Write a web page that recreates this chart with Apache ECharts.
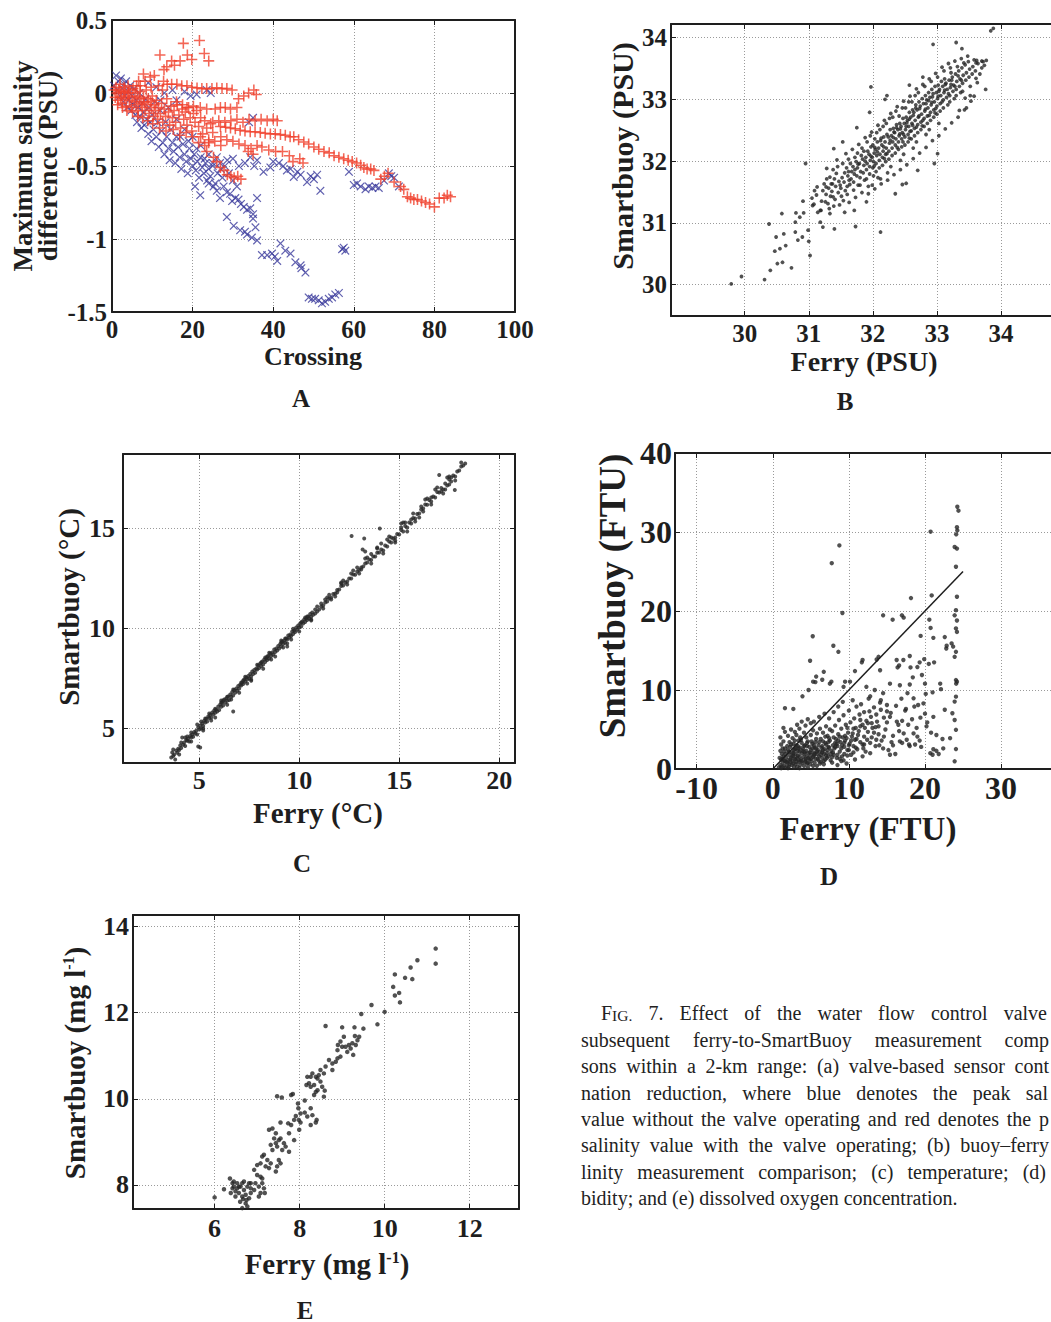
<!DOCTYPE html>
<html><head><meta charset="utf-8">
<script src="https://cdn.jsdelivr.net/npm/echarts@6/dist/echarts.min.js"></script>
<style>html,body{margin:0;padding:0;background:#fff}#c{width:1051px;height:1322px}</style>
</head><body><div id="c"></div>
<script>
// ---------------- DATA ----------------
// Panel A: maximum salinity difference vs crossing
const valveOperating = [ // red +
[0.5,0.02],[0.8,-0.03],[1,0.04],[1.2,0],[1.5,-0.05],[1.7,0.02],[2,0.06],[2.1,-0.03],[2.3,0.01],[2.5,-0.07],[2.8,0],[3,0.04],[3.1,-0.04],[3.3,0.01],[3.5,-0.09],[3.8,-0.02],[4,0.05],[4.1,0],[4.3,-0.05],[4.5,0.02],[4.8,-0.1],[5,-0.03],[5.2,0.03],[5.5,-0.06],[5.7,0],[6,-0.08],[6.1,0.05],[6.3,-0.02],[6.5,-0.12],[6.8,-0.04],[7,0.01],[7.2,-0.07],[7.5,-0.1],[7.8,-0.03],[8,-0.06],[8.2,-0.12],[8.5,0.02],[8.7,-0.08],[9,-0.04],[9.2,-0.14],[9.5,-0.06],[9.8,-0.1],[10,-0.02],[10.3,-0.16],[10.5,-0.08],[10.8,-0.12],[11,-0.05],[11.3,-0.18],[11.5,-0.1],[12,-0.14],[12.3,-0.07],[12.6,-0.2],[13,-0.11],[13.3,-0.16],[13.6,-0.04],[14,-0.13],[14.3,-0.22],[14.6,-0.09],[15,-0.17],[15.4,-0.12],[15.8,-0.2],[16.2,-0.08],[16.6,-0.15],[17,-0.24],[17.4,-0.11],[17.8,-0.18],[18.2,-0.13],[18.6,-0.22],[19,-0.1],[19.4,-0.17],[19.8,-0.26],[20.2,-0.14],[20.6,-0.2],[21,-0.12],[21.5,-0.23],[22,-0.17],[22.5,-0.28],[23,-0.19],[23.5,-0.24],[24,-0.32],[24.5,-0.21],[25,-0.27],[23,-0.36],[24,-0.34],[22,-0.3],
[7,0.05],[7.8,0.13],[8.2,0.08],[9.5,0.11],[10.5,0.12],[11.9,0.26],[12.9,0.16],[13.6,0.18],[14.8,0.22],[15.5,0.19],[16.9,0.22],[17.7,0.34],[18.7,0.26],[19.8,0.23],[21.7,0.36],[22.9,0.27],[24,0.22],
[11.5,0.05],[12.8,0.08],[13.7,0.06],[14.8,0.06],[16.1,0.06],[17.3,0.05],[18.6,0.05],[19.8,0.04],[21.1,0.035],[22.3,0.03],[23.5,0.03],[24.8,0.03],[26,0.035],[27.3,0.03],[28.5,0.03],[29.8,0.02],[31.4,-0.04],[32.7,-0.02],[33.9,0],[35.2,0.02],[35.8,-0.01],
[16,-0.06],[17.5,-0.08],[18.6,-0.1],[20.2,-0.09],[21.9,-0.1],[23.5,-0.11],[25.6,-0.11],[26.9,-0.1],[28.1,-0.1],[29.4,-0.11],[31,-0.1],
[25,-0.2],[26.5,-0.19],[28,-0.2],[29.5,-0.19],[31,-0.18],[32.5,-0.2],[34,-0.18],[35.5,-0.19],[37,-0.18],[38.5,-0.19],[40,-0.18],[41,-0.19],
[26.9,-0.23],[28.2,-0.235],[29.4,-0.24],[30.6,-0.245],[31.8,-0.255],[33,-0.26],[34.3,-0.265],[35.5,-0.265],[36.8,-0.27],[38,-0.275],[39.3,-0.28],[40.5,-0.28],[41.8,-0.285],[43,-0.29],[44.2,-0.3],[45.1,-0.3],[46.3,-0.32],[47.6,-0.335],[48.8,-0.35],[50.1,-0.37],[51.3,-0.385],[52.6,-0.4],[53.9,-0.41],[55.1,-0.43],[56.3,-0.44],[57.5,-0.45],[58.6,-0.46],[59.6,-0.47],[60.7,-0.48],[61.7,-0.495],[62.5,-0.51],[63.3,-0.52],[64.2,-0.52],[65,-0.53],[66.7,-0.59],[67.6,-0.57],[68.5,-0.55],[70,-0.61],[71.6,-0.64],[72.4,-0.66],[73.3,-0.71],[74.1,-0.72],[74.9,-0.73],[75.8,-0.73],[76.8,-0.74],[77.8,-0.75],[78.8,-0.76],[80,-0.78],[81.2,-0.72],[82.4,-0.72],[83.2,-0.7],[84,-0.71],
[30,-0.33],[31.5,-0.35],[33,-0.36],[34.5,-0.38],[36,-0.36],[37.2,-0.37],[38.9,-0.39],[40.6,-0.4],[42.3,-0.4],[44,-0.43],[44.9,-0.47],[46.6,-0.45],[47.4,-0.48],
[20,-0.3],[21.5,-0.34],[23.5,-0.4],[25.2,-0.44],[26,-0.47],[26.9,-0.51],[27.8,-0.53],[28.6,-0.56],[29.5,-0.57],[30.3,-0.58],[31.2,-0.57],[32,-0.59],[33.8,-0.4],[35,-0.42],
[27,-0.3],[28.5,-0.32],[25.5,-0.33],[27,-0.36],
[1.4,-0.08],[2.6,-0.1],[3.7,-0.12],[5.1,-0.13],[6.4,-0.16],[7.6,-0.17],[8.9,-0.19],[10.1,-0.21],[11.8,-0.24],[13.4,-0.26],[15.2,-0.25],[16.8,-0.29],[18.4,-0.27],[6.6,0.08],[9.7,0.04],[12.5,0.02]
];
const valveNotOperating = [ // blue x
[0.5,0.05],[1,0.12],[1.3,0.02],[1.6,0.08],[2,-0.02],[2.2,0.1],[2.5,0.03],[2.8,-0.06],[3,0.06],[3.2,-0.02],[3.5,0.08],[3.8,-0.1],[4,0.01],[4.2,-0.05],[4.5,0.05],[4.8,-0.12],[5,-0.02],[5.3,-0.08],[5.5,0.03],[5.8,-0.15],[6,-0.05],[6.2,-0.2],[6.5,-0.1],[6.8,0],[7,-0.16],[7.3,-0.24],[7.5,-0.07],[7.8,-0.13],[8,-0.22],[8.3,-0.04],[8.6,-0.18],[9,-0.28],[9.2,-0.1],[9.5,-0.2],[9.8,-0.33],[10,-0.15],[10.3,-0.25],[10.6,-0.06],[11,-0.3],[11.3,-0.2],[11.6,-0.37],[12,-0.12],[12.3,-0.26],[12.6,-0.34],[13,-0.42],[13.3,-0.2],[13.6,-0.3],[14,-0.38],[14.3,-0.46],[14.6,-0.25],[15,-0.34],[15.3,-0.4],[15.7,-0.48],[16,-0.3],[16.4,-0.37],[16.8,-0.44],[17.2,-0.52],[17.6,-0.35],[18,-0.42],[18.4,-0.47],[18.8,-0.55],[19.2,-0.38],[19.6,-0.45],[20,-0.5],[20.4,-0.42],[20.8,-0.53],[21.2,-0.47],[21.6,-0.58],[22,-0.44],[22.4,-0.51],[22.8,-0.55],[23.2,-0.48],[23.6,-0.6],[24,-0.52],[24.4,-0.57],[25,-0.5],[25.6,-0.62],[26.2,-0.55],[26.8,-0.48],[27.4,-0.58],[28,-0.5],[13,0],[15,0.02],[16,-0.05],[18,0.01],[19.5,-0.02],[21,-0.01],[23.5,0.02],[24.5,0],[11,0.04],[9,0.07],
[14,-0.1],[16,-0.18],[18,-0.25],[20,-0.3],[22,-0.36],[24,-0.42],[26,-0.44],[12,-0.05],[17,-0.3],[19,-0.33],[21,-0.38],[23,-0.45],[25,-0.48],[27,-0.52],[29,-0.55],[30,-0.6],[31,-0.64],
[28.6,-0.46],[30,-0.45],[31.5,-0.5],[33,-0.48],[34.3,-0.44],[35.3,-0.5],[36,-0.46],[37.6,-0.54],[39.3,-0.51],[40,-0.47],[41.4,-0.48],[42.5,-0.5],[43.4,-0.53],[44.3,-0.52],[45.1,-0.575],[46,-0.54],[46.8,-0.56],[48.4,-0.61],[49.3,-0.57],[50.1,-0.59],[50.9,-0.56],[51.7,-0.67],[35,-0.17],[34,-0.2],
[58.8,-0.54],[60,-0.63],[60.8,-0.62],[61.7,-0.64],[62.9,-0.66],[63.7,-0.64],[64.6,-0.65],[65.4,-0.64],[66.2,-0.65],[67.5,-0.6],[68.7,-0.55],[69.3,-0.57],[70,-0.58],[71.2,-0.64],
[20.6,-0.64],[21.9,-0.7],[24,-0.62],[25.2,-0.64],[26,-0.67],[26.8,-0.72],[27.7,-0.64],[28.5,-0.68],[29.3,-0.69],[29.8,-0.74],[30.6,-0.72],[31.4,-0.73],[32,-0.76],[32.7,-0.78],[33.5,-0.8],[34.3,-0.79],[35,-0.83],[36,-0.72],[28.5,-0.85],[30.2,-0.91],[31.8,-0.94],[33,-0.95],[33.5,-0.97],[34.7,-0.99],[35.6,-0.92],[36,-1.01],[35,-0.86],
[37.2,-1.11],[38.5,-1.11],[39.7,-1.1],[40.4,-1.12],[41,-1.15],[41.8,-1.03],[43,-1.08],[44.3,-1.1],[45.5,-1.16],[46.8,-1.18],[48,-1.23],[47,-1.2],
[48.8,-1.4],[49.6,-1.41],[50.4,-1.41],[51.3,-1.42],[52.1,-1.44],[52.9,-1.43],[53.8,-1.41],[54.6,-1.4],[55.4,-1.38],[56.3,-1.37],
[57.1,-1.07],[57.9,-1.08],[57.5,-1.06]
];
// Panel B: salinity, ferry vs SmartBuoy (PSU)
const salinity = [
[29.79,30.01],[29.95,30.13],[30.31,30.08],[30.4,30.23],[30.51,30.34],[30.59,30.36],[30.73,30.27],[30.47,30.54],[30.55,30.58],[30.64,30.63],[30.49,30.77],[30.61,30.82],[30.38,30.98],[30.58,31.15],[30.79,30.85],[30.83,30.72],[30.9,30.77],[31,30.7],[31.02,30.47],[30.99,30.88],[30.79,31.01],[30.86,31.09],[30.92,31.16],[30.8,31.16],[30.91,31.35],[30.95,31.96],[31.05,31.4],[31.09,31.52],[31.13,31.58],[31.06,31.28],[31.14,31.17],[31.18,31.01],[31.22,30.93],[31.4,30.9],[31.73,30.94],[32.12,30.85],[31.26,31.34],[31.32,31.23],[31.38,31.42],[31.27,31.58],[31.35,31.63],[31.39,32.2],[31.53,32.31],[31.75,32.54],[31.97,33.2],[31.95,32.79],[32.19,33.0],[32.22,33.06],[32.57,33.23],[32.78,33.36],[32.94,33.89],[33.3,33.92],[33.39,33.82],[33.84,34.11],[33.88,34.15],[33.77,33.63],[33.7,33.62],[33.64,33.58],[33.61,33.34],[33.76,33.16],[33.58,33.05],[33.46,32.86],[33.35,32.82],[32.96,31.96],[33.01,32.12],[32.7,31.85],[32.52,31.64],[32.46,31.62],[32.35,31.47],[32.12,31.71],[31.9,31.34],[31.56,31.17],[31.71,31.2],[31.18,31.2],[31.12,31.45],[31.08,31.3],
[31.2,31.35],[31.22,31.52],[31.24,31.63],[31.19,31.2],[31.27,31.46],[31.28,31.71],[31.3,31.31],[31.31,31.56],[31.33,31.74],[31.34,31.43],[31.36,31.51],[31.37,31.63],[31.38,31.86],[31.41,31.38],[31.42,31.59],[31.4,31.71],[31.43,31.8],[31.39,31.27],[31.46,31.49],[31.47,31.67],[31.45,31.91],[31.5,31.56],[31.52,31.73],[31.49,31.61],[31.51,31.43],[31.53,31.96],[31.55,31.66],[31.56,31.81],[31.57,31.52],[31.54,31.36],[31.6,31.59],[31.61,31.76],[31.59,31.89],[31.62,32.03],[31.6,31.46],[31.63,31.69],[31.66,31.71],[31.67,31.83],[31.64,31.62],[31.65,31.96],[31.7,31.66],[31.71,31.79],[31.69,31.91],[31.72,32.06],[31.7,31.53],[31.72,31.86],[31.75,31.76],[31.76,31.89],[31.74,31.99],[31.77,31.61],[31.76,32.13],[31.8,31.73],[31.81,31.83],[31.79,31.96],[31.82,32.09],[31.8,31.61],[31.83,32.21],[31.85,31.81],[31.86,31.93],[31.84,32.03],[31.87,31.69],[31.86,32.16],[31.9,31.86],[31.91,31.96],[31.89,32.06],[31.92,32.16],[31.9,31.71],[31.91,32.31],[31.93,31.59],[31.95,31.91],[31.96,32.01],[31.94,32.11],[31.97,32.23],[31.95,31.79],[31.96,32.41],[32,31.89],[32.01,31.99],[31.99,32.06],[32.02,32.13],[32,32.26],[32.01,31.76],[32.03,32.36],[31.99,31.61],[32.05,31.96],[32.06,32.09],[32.04,32.19],[32.07,32.31],[32.05,31.83],[32.06,32.46],[32.1,32.01],[32.11,32.11],[32.09,32.21],[32.12,32.33],[32.1,31.89],[32.11,32.51],[32.08,31.73],[32.15,32.06],[32.16,32.16],[32.14,32.26],[32.17,32.39],[32.15,31.93],[32.16,32.56],[32.2,32.11],[32.21,32.21],[32.19,32.31],[32.22,32.43],[32.2,31.99],[32.21,32.61],[32.23,31.81],[32.25,32.16],[32.26,32.29],[32.24,32.39],[32.27,32.51],[32.25,32.03],[32.26,32.69],[32.3,32.21],[32.31,32.31],[32.29,32.41],[32.32,32.53],[32.3,32.09],[32.31,32.71],[32.28,31.91],[32.35,32.26],[32.36,32.36],[32.34,32.46],[32.37,32.59],[32.35,32.13],[32.36,32.81],[32.4,32.31],[32.41,32.41],[32.39,32.51],[32.42,32.61],[32.4,32.19],[32.41,32.73],[32.43,32.01],[32.45,32.36],[32.46,32.46],[32.44,32.56],[32.47,32.69],[32.45,32.23],[32.46,32.86],[32.5,32.39],[32.51,32.51],[32.49,32.61],[32.52,32.71],[32.5,32.26],[32.51,32.86],[32.48,32.11],[32.55,32.43],[32.56,32.56],[32.54,32.66],[32.57,32.79],[32.55,32.31],[32.56,32.96],[32.6,32.49],[32.61,32.61],[32.59,32.71],[32.62,32.83],[32.6,32.36],[32.61,32.96],[32.63,32.21],[32.65,32.53],[32.66,32.66],[32.64,32.79],[32.67,32.91],[32.65,32.41],[32.66,33.06],[32.7,32.59],[32.71,32.71],[32.69,32.83],[32.72,32.96],[32.7,32.46],[32.71,33.11],[32.68,32.31],[32.75,32.63],[32.76,32.76],[32.74,32.89],[32.77,33.01],[32.75,32.51],[32.8,32.69],[32.81,32.81],[32.79,32.93],[32.82,33.06],[32.8,32.56],[32.81,33.21],[32.83,32.43],[32.85,32.73],[32.86,32.86],[32.84,32.99],[32.87,33.11],[32.85,32.61],[32.9,32.79],[32.91,32.91],[32.89,33.03],[32.92,33.16],[32.9,32.66],[32.91,33.29],[32.88,32.51],[32.95,32.83],[32.96,32.96],[32.94,33.09],[32.97,33.21],[32.95,32.71],[33,32.89],[33.01,33.01],[32.99,33.11],[33.02,33.23],[33,32.76],[33.01,33.36],[33.03,32.61],[33.05,32.93],[33.06,33.06],[33.04,33.16],[33.07,33.29],[33.05,32.81],[33.1,32.99],[33.11,33.11],[33.09,33.21],[33.12,33.33],[33.1,32.86],[33.11,33.46],[33.15,33.03],[33.16,33.16],[33.14,33.26],[33.17,32.91],[33.2,33.06],[33.21,33.19],[33.19,33.31],[33.22,33.43],[33.2,32.96],[33.21,33.51],[33.25,33.13],[33.26,33.23],[33.24,33.36],[33.27,33.01],[33.3,33.16],[33.31,33.29],[33.29,33.41],[33.32,33.53],[33.3,33.06],[33.35,33.21],[33.36,33.33],[33.34,33.46],[33.37,33.11],[33.4,33.26],[33.41,33.39],[33.39,33.51],[33.42,33.59],[33.4,33.13],[33.45,33.31],[33.46,33.43],[33.44,33.56],[33.5,33.36],[33.51,33.49],[33.49,33.61],[33.52,33.21],[33.55,33.41],[33.56,33.53],[33.6,33.46],[33.61,33.59],[33.62,33.63],[33.7,33.51],[33.72,33.61],
[31.28,31.88],[31.33,31.15],[31.44,32.02],[31.48,31.29],[31.58,32.12],[31.63,31.33],[31.68,32.19],[31.73,31.41],[31.78,32.27],[31.83,31.49],[31.88,32.38],[31.93,31.47],[31.98,32.47],[32.03,31.55],[32.08,32.58],[32.13,31.63],[32.18,32.66],[32.23,31.69],[32.28,32.77],[32.33,31.78],[32.38,32.88],[32.43,31.86],[32.48,32.97],[32.53,31.94],[32.58,33.05],[32.63,32.04],[32.68,33.17],[32.73,32.13],[32.78,33.24],[32.83,32.22],[32.88,33.33],[32.93,32.33],[32.98,33.42],[33.03,32.41],[33.08,33.52],[33.13,32.52],[33.18,33.58],[33.23,32.62],[33.28,33.62],[33.33,32.71],[33.38,33.66],[33.43,32.83],[33.48,33.7],[33.53,32.97],[33.58,33.64],[33.63,33.27],[33.67,33.41],[33.74,33.55],[33.52,33.06],[33.44,33.02],
[31.62,31.83],[31.77,31.95],[31.88,32.0],[32.03,32.22],[32.13,32.37],[32.18,32.04],[32.27,32.34],[32.33,32.47],[32.38,32.22],[32.43,32.52],[32.48,32.43],[32.53,32.62],[32.58,32.48],[32.63,32.74],[32.68,32.55],[32.73,32.85],[32.78,32.66],[32.83,32.93],[32.88,32.74],[32.93,33.04],[32.98,32.85],[33.03,33.13],[33.08,32.96],[33.13,33.24],[33.18,33.09],[33.23,33.31],[33.28,33.21],[33.33,33.38],[33.38,33.31],[32.02,31.92],[31.97,32.08],[32.07,32.15],[32.17,32.23],[32.22,32.12],[32.32,32.38],[32.42,32.44],[32.52,32.56],[32.57,32.68],[32.62,32.58],[32.72,32.73],[32.82,32.84],[32.92,32.95],[33.02,33.05],[33.12,33.15],[33.22,33.24],[32.47,32.31],[32.37,32.54],[32.57,32.37],[32.67,32.86],[32.77,32.57],[32.87,32.98],[32.97,32.78]
];
// Panel C: temperature (°C)
const temperature = [
[3.6,3.55],[3.65,3.8],[3.7,3.62],[3.75,3.7],[3.8,3.45],[3.85,3.9],[3.9,3.78],[3.95,3.98],[4,3.92],[4.05,4.15],[4.1,4.02],[4.15,4.55],[4.2,4.18],[4.25,4.3],[4.3,4.12],[4.35,4.42],[4.4,4.38],[4.45,4.5],[4.5,4.35],[4.55,4.62],[4.6,4.55],[4.65,4.7],[4.7,4.58],[4.75,4.82],[4.8,4.75],[4.85,4.88],[4.9,4.7],[4.95,5.05],[4.95,4.1],[5.05,4.05],[5,4.95],[5.05,5.15],[5.1,5],[5.15,5.25],[5.2,5.12],[5.25,5.38],[5.3,5.3],[5.35,5.48],[5.4,5.35],[5.45,5.6],[5.5,5.52],[5.55,5.68],[5.6,5.55],[5.65,5.8],[5.7,5.7],[5.75,5.9],[5.8,5.78],[5.85,5.95],[5.9,5.85],[5.95,6.1],[6,5.92],[6.05,6.2],[6.1,6.08],[6.15,6.3],[6.2,6.15],[6.25,6.45],[6.3,6.3],[6.35,6.5],[6.4,6.38],[6.45,6.6],[6.5,6.42],[6.55,6.7],[6.6,6.58],[6.65,6.82],[6.7,5.85],[6.7,6.65],[6.75,6.92],[6.8,6.78],[6.85,7],[6.9,6.88],[6.95,7.12],[7,7],[7.05,7.2],[7.1,7.15],[7.15,7.3],[7.2,7.22],[7.25,7.45],[7.3,7.35],[7.35,7.55],[7.4,7.45],[7.45,7.62],[7.5,7.5],[7.55,7.72],[7.6,7.6],[7.65,7.85],[7.7,7.72],[7.75,7.92],[7.8,7.78],[7.85,8],[7.9,7.95],[7.95,8.15],[8,8.02],[8.05,8.25],[8.1,8.12],[8.15,8.35],[8.2,8.2],[8.25,8.45],[8.3,8.32],[8.35,8.5],[8.4,8.42],[8.45,8.62],[8.5,8.5],[8.55,8.75],[8.6,8.62],[8.65,8.8],[8.7,8.7],[8.75,8.95],[8.8,8.82],[8.85,9],[8.9,8.9],[8.95,9.12],[9,9],[9.05,9.22],[9.1,9.1],[9.15,9.35],[9.2,9.22],[9.25,9.4],[9.3,9.28],[9.35,9.5],[9.4,9.1],[9.4,9.45],[9.45,9.65],[9.5,9.55],[9.55,9.7],[9.6,9.62],[9.65,9.85],[9.7,9.72],[9.75,9.9],[9.8,9.82],[9.85,10.05],[9.9,9.95],[9.95,10.15],[10,10.05],[10.05,10.25],[10.1,10.1],[10.15,10.35],[10.2,10.25],[10.25,10.45],[10.3,10.32],[10.35,10.5],[10.4,10.42],[10.45,10.6],[10.5,10.5],[10.55,10.72],[10.6,10.58],[10.65,10.8],[10.7,10.68],[10.8,10.75],[10.9,10.85],[11,10.95],[11.1,11.1],[11.2,11.15],[11.3,11.3],[11.4,11.35],[11.5,11.5],[11.6,11.55],[11.7,11.72],[11.8,11.75],[11.9,11.92],[12,11.95],[12.1,12.12],[12.2,12.15],[12.3,12.3],[12.4,12.35],[12.5,12.5],[12.6,12.5],[12.62,14.62],[12.7,12.7],[12.8,12.68],[12.9,12.85],[13,12.92],[13.1,13.05],[13.17,13.95],[13.25,14.5],[13.2,13.1],[13.3,13.25],[13.3,13.85],[13.4,13.3],[13.5,13.45],[13.6,13.42],[13.7,13.6],[13.8,13.6],[13.9,13.78],[14,13.8],[14.03,15],[14.1,13.95],[14.2,13.9],[14.3,14.15],[14.4,14.1],[14.5,14.35],[14.6,14.3],[14.7,14.5],[14.8,14.55],[14.9,14.72],[15,14.7],[15.1,14.92],[15.2,14.85],[15.3,15.12],[15.4,15.05],[15.5,15.3],[15.6,15.25],[15.7,15.52],[15.8,15.5],[15.9,15.72],[16,15.75],[16.1,15.95],[16.2,16],[16.3,16.2],[16.4,16.18],[16.5,16.42],[16.6,16.35],[16.7,16.6],[16.8,16.55],[16.9,16.82],[17,16.8],[17,17.67],[17.1,17.02],[17.2,16.95],[17.3,17.25],[17.4,17.15],[17.5,17.45],[17.6,17.35],[17.7,17.65],[17.78,16.92],[17.8,17.6],[17.9,17.85],[18,17.9],[18.1,18.1],[18.2,18.15],[18.3,18.25],
[4.1,4.3],[4.6,4.8],[5.1,5.35],[5.6,5.4],[6.1,6.3],[6.6,6.45],[7.1,7.3],[7.6,7.45],[8.1,8.3],[8.6,8.45],[9.1,9.3],[9.6,9.45],[10.1,10.3],[10.6,10.45],[11.1,11.25],[11.6,11.45],[12.1,12.25],[12.6,12.75],[13.1,12.95],[13.6,13.72],[14.1,14.25],[14.6,14.55],[15.1,15.05],[15.6,15.45],[16.1,16.1],[16.6,16.55],[17.1,16.85],[17.6,17.55],[15.3,15.3],[16.8,16.95],[17.3,16.95],[17.5,17.2],[16.2,15.85],[15.8,15.35],[14.8,14.4],[13.9,14],[12.9,13.05],[11.9,11.8],[11.4,11.55],[10.8,10.95],[9.2,9.05],[8.3,8.55],[7.4,7.25],[6.4,6.58],[5.8,5.98],[5.2,5],
[3.7,3.95],[4,3.7],[4.3,4.55],[4.6,4.35],[4.9,5.2],[5.2,4.9],[5.5,5.75],[5.8,5.55],[6.1,6.4],[6.4,6.18],[6.7,6.95],[7,6.78],[7.3,7.58],[7.6,7.38],[7.9,8.18],[8.2,7.98],[8.5,8.78],[8.8,8.6],[9.1,9.4],[9.4,9.25],[9.7,9.98],[10,9.85],[10.3,10.55],[10.6,10.4],[10.9,11.1],[11.2,11],[11.5,11.68],[11.8,11.6],[12.1,12.3],[12.4,12.2],[12.7,12.9],[13,12.75],[13.3,13.5],[13.6,13.25],[13.9,14.05],[14.2,13.75],[14.5,14.6],[14.8,14.3],[15.1,15.25],[15.4,14.85],[15.7,15.75],[16,15.55],[16.3,16.45],[16.6,16.2],[16.9,17.05],[17.2,16.75],[17.5,17.6],[17.8,17.4],[18.1,18.3],[17.4,17.55],[16.4,16.5],[15.2,15.3],[14.4,14.45],[13.4,13.55],[12.2,12.4],[11.3,11.45],[10.4,10.6],[9.3,9.5],[8.4,8.6],[7.2,7.4],[6.2,6.4],[5.3,5.5],[4.4,4.6]
];
// Panel D: turbidity (FTU)
const turbidity = [
[0.8,0.2],[1,0.5],[1.1,1.2],[1.2,0.3],[1.3,0.8],[1.4,1.6],[1.5,0.4],[1.5,2.2],[1.6,1],[1.7,0.2],[1.8,1.5],[1.9,0.7],[2,2.4],[2,1.1],[2.1,0.3],[2.2,1.8],[2.3,0.9],[2.3,2.8],[2.4,1.4],[2.5,0.5],[2.5,2.1],[2.6,1],[2.7,3.2],[2.7,1.7],[2.8,0.2],[2.9,2.5],[2.9,1.2],[3,0.6],[3,1.9],[3.1,3],[3.2,1.4],[3.2,0.3],[3.3,2.3],[3.4,0.9],[3.4,3.6],[3.5,1.6],[3.6,2.7],[3.6,0.5],[3.7,1.2],[3.8,2],[3.8,3.3],[3.9,0.8],[4,1.5],[4,2.5],[4.1,0.4],[4.2,1.9],[4.2,3],[4.3,1.1],[4.4,2.3],[4.5,0.7],[4.5,1.6],[4.6,3.5],[4.7,2],[4.8,1.2],[4.8,2.8],[4.9,0.6],[5,1.8],[5,2.4],[5.1,1],[5.2,3.2],[5.3,1.5],[5.4,2.1],[5.5,0.8],[5.5,2.7],[5.6,1.3],[5.7,3.8],[5.8,1.9],[5.9,2.4],[6,1.1],[6,3],[6.1,1.6],[6.2,2.2],[6.3,0.9],[6.4,2.7],[6.5,1.4],[6.6,3.5],[6.7,1.9],[6.8,2.5],[6.9,1.2],[7,3.1],[7.1,2],[7.2,4.2],[7.3,1.6],[7.4,2.7],[7.5,3.6],[7.6,1.1],[7.7,2.3],[7.8,4.8],[7.9,3],[8,1.8],[8.1,2.6],[8.2,5.5],[8.3,3.8],[8.4,1.4],[8.5,2.9],[8.6,4.4],[8.7,6.2],[8.8,2.2],[8.9,3.4],[9,5.1],[9.1,1.6],[9.2,4],[9.3,6.8],[9.4,2.8],[9.5,3.6],[9.6,5.6],[9.7,0.7],[9.8,2.4],[9.9,4.6],[10,7.4],[10.1,3.2],[10.2,5.9],[10.3,1.8],[10.4,4.1],[10.5,8.7],[10.6,2.9],[10.7,6.4],[10.8,3.7],[10.9,5.2],[11,7.9],[11.1,2.5],[11.3,4.8],[11.4,6.9],[11.5,3.4],[11.6,8.2],[11.8,5.6],[12,4.1],[12,7.2],[12.2,2.2],[12.3,6.1],[12.5,4.7],[12.6,8.9],[12.8,3.3],[12.9,6.6],[13.1,5.2],[13.3,7.8],[13.5,2.9],[13.7,6],[13.9,4.4],[14.1,8.4],[14.3,3.6],[14.6,6.5],[14.8,5],[15.2,2.4],[15.5,7.1],[15.8,4.2],[16.1,1.9],[16.5,5.6],[17,3.3],[17.4,7.4],[18,2.9],[18.3,6.3],[19,4.1],[19.5,2.8],[20.2,5.4],[21,1.8],[21.5,2.3],[22.3,3.8],
[1.2,1.9],[1.6,2.6],[2.2,3.4],[2.6,3.9],[3.1,4.3],[3.6,4],[4.1,4.6],[4.4,4],[5,4.3],[5.3,4.9],[5.8,4.5],[6.2,5.1],[6.6,4.6],[7,5.4],[7.5,5],[1.3,2.6],[1.1,3.1],[1,4],[1.6,4.7],[1.4,5.2],[2.4,5],[3.2,5.6],[3.8,6],[4.6,6.3],[5.4,6],[6.1,6.6],[6.8,7],[7.4,6.4],[8,7.2],[8.6,7.9],[9.2,8.5],[3,2.6],[3.5,2.2],[4.5,2.9],[5.2,2.6],[5.6,3.4],[6.3,3.8],[6.9,4.1],[7.3,3.4],[8,4],[8.4,3.2],[9,2.6],[9.5,4.2],[10,3],[10.5,4.5],[11,3.8],[11.5,5.4],[12,3.1],[12.5,5.8],[13,4],[13.5,5.3],[14,3],[2,0.1],[3.5,0.1],[4.6,0.2],[5.8,0.4],[6.7,0.6],[7.8,0.8],[8.5,0.5],[9.3,1.1],[10.8,1.2],[11.8,1.6],[1.8,0.9],[2.7,0.7],[3.3,1.7],[4.3,1.3],[5.4,1.7],[6.5,2.1],[7.2,2.4],[8.8,1.3],[9.8,1.7],[10.6,2.1],[11.9,2.6],[12.8,2],[13.6,3.7],[14.5,2.6],
[1.1,0.1],[1.3,1.3],[1.5,1.1],[1.7,1.9],[1.9,2.9],[2.1,2.2],[2.2,0.6],[2.4,3.1],[2.6,1.6],[2.8,2.4],[2.9,3.6],[3.1,0.9],[3.3,2.9],[3.5,1.1],[3.7,3.7],[3.9,2.3],[4.1,2.9],[4.3,0.9],[4.5,3.3],[4.7,1.4],[4.9,2.1],[5.1,3.5],[5.3,0.4],[5.5,1.9],[5.7,2.6],[5.9,1.3],[6.1,3.4],[6.3,1.8],[6.5,2.9],[6.7,1],[6.9,3.3],[7.1,1.4],[7.3,2.8],[7.6,1.9],[7.9,2.1],[8.2,3.3],[8.5,1.8],[8.8,4.1],[9.1,3],[9.4,1.9],[9.7,3.9],[10,2.4],[10.3,3.6],[10.6,5.1],[10.9,2.7],[11.2,4.3],[11.5,6.2],[11.8,3.1],[12.1,5.2],[12.4,3.7],[12.7,7.3],[13,5.8],[13.3,4.6],[13.6,6.9],[13.9,5.4],[14.2,7.5],[14.6,4.1],[15,5.9],[15.4,6.6],[15.8,3],[16.2,8],[16.6,4.8],[17,6.1],[17.8,5.6],[18.6,7.9],[19.3,3.6],[20,7],[20.8,4.6],[2.3,1.2],[2.7,2],[3,1.3],[3.4,2.6],[3.8,1],[4.2,2.1],[4.6,0.8],[5,1.3],[5.4,3],[5.8,2.2],[6.2,0.7],[6.6,2.4],[7,1.7],[7.4,3.9],[7.8,1.5],[8.2,2.8],[8.6,3.6],[9,1],[9.4,3.3],[9.8,5.2],[1,2.3],[0.9,1.4],[1.4,3.5],[2,4.2],[2.9,4.7],[3.5,5.1],[4.3,5.5],[5,5.8],
[8.75,28.3],[7.75,26.05],[9.15,19.75],[5.25,16.8],[7.96,15.6],[8.62,14.83],[4.9,13.7],[18.16,21.64],[20.88,21.97],[20.74,30.04],[24.25,33.2],[24.4,32.7],[24.2,30.6],[24.25,30.2],[24.1,29.7],[23.9,28.1],[24.2,27.9],[24.07,25.6],[24.2,21.8],[24.07,20.1],[23.9,19.45],[24.2,18.8],[24.07,17.8],[24.2,17.35],[23.5,15.9],[23.7,15.5],[22.8,15.25],[24.07,14.83],[23.9,14.2],[24.07,11.26],[24.2,11.05],[24.1,10.8],[24.07,9.16],[23.9,8.53],[23.6,7.06],[23.9,6.2],[24.07,4.96],[23.3,3.9],[24.07,2.52],[23.9,0.97],[14.5,19.45],[15.75,18.9],[16.97,19.45],[17.2,19.16],[19.43,16.85],[20.57,18.9],[20.74,17.86],[21.1,16.6],[22.6,16.7],[22.85,15.6],[10.8,12.4],[11.7,13.5],[11.8,13.8],[13.65,13.86],[14.1,12.5],[16.28,13.8],[17.16,13.8],[18,14.3],[19.3,13.5],[21.2,13.5],[16.4,12.86],[18.1,12.86],[19,12.9],[20,10.8],[18,10.7],[16.7,10.6],[15.4,10.8],[22,10.8],[21,9.7],[20.1,9.5],[17.7,9.6],[18.5,8.95],[19.1,8.1],[21.1,6.6],[22.6,7.5],[20.7,2],[21.1,2.5],[21.5,4.3],[22.4,2.6],[19.8,8.3],[18.9,5.2],[18.5,4.5],[17.9,3.1],[18.7,3.1],[15.4,1.8],[16.7,3.5],[15.6,3.4],[16.3,6],[17.2,4.5],[17.6,3.7],[15,7.3],[14.2,8.7],[15,8.1],[12.8,9.2],[13.4,10],[12.3,10.4],[14.5,9.6],[1.6,7.7],[2.7,7.6],[3.9,9.2],[4.7,10],[5.6,11],[6.5,11.3],[6.7,12.3],[5.7,11.7],[5.3,11.05],[7.5,10.8],[7.7,11.05],[9.3,10.4],[9.5,11.05],[10.15,11.05],[13.9,14.2],[16.6,13.1],[19.9,13.9],[20.5,13.3],[18.4,11.6],[19.6,11.9],[17.5,7.6],[16.9,8.9],[20.3,5.9],[21.8,1.9],[22.1,10.1],[19.4,6.5]
];
const turbidityFit = [[0,0],[25,25]];
// Panel E: dissolved oxygen (mg l-1)
const oxygen = [
[11.2,13.49],[11.2,13.14],[10.77,13.22],[10.61,13.05],[10.65,12.78],[10.48,12.81],[10.24,12.89],[10.2,12.6],[10.34,12.46],[10.24,12.4],[10.36,12.24],[9.69,12.18],[10,12.02],[9.45,11.97],[9.83,11.73],[9.5,11.63],[9.29,11.66],[9,11.66],[8.61,11.69],
[9.3,11.46],[9.36,11.36],[9.24,11.29],[9.16,11.25],[9.04,11.44],[9.08,11.21],[9.12,11.09],[9.26,11.02],[8.96,11.33],[9,11.21],[8.89,11.13],[9.2,11.17],[9.32,11.25],[9.4,11.44],[8.9,11.25],
[8.69,10.9],[8.77,10.82],[8.85,10.86],[8.89,10.94],[8.61,10.75],[8.77,10.67],[8.96,10.98],[8.49,10.67],[8.57,10.59],
[8.18,10.51],[8.3,10.59],[8.42,10.47],[8.49,10.4],[8.34,10.32],[8.26,10.28],[8.22,10.36],[8.38,10.51],[8.45,10.55],[8.16,10.32],[8.26,10.51],[8.53,10.28],[8.42,10.2],[8.34,10.09],
[8.38,10.16],[8.57,10.05],[8.59,10.19],[7.47,10.06],[7.58,10.03],[7.8,10.09],[7.84,10.11],[8.12,9.96],
[7.97,9.78],[8.02,9.66],[7.91,9.6],[7.98,9.51],[7.87,9.51],[8.26,9.78],[8.3,9.62],[8.26,9.39],[8.38,9.45],[8.4,9.51],
[7.55,9.45],[7.73,9.43],[7.8,9.39],[7.75,9.2],[7.87,9.04],
[7.28,9.28],[7.36,9.31],[7.44,9.2],[7.55,9.08],[7.44,8.97],[7.47,8.89],[7.36,8.81],[7.63,8.97],[7.51,9.04],[7.4,9.08],[7.32,8.93],[7.59,8.81],[7.67,8.89],[7.75,8.77],
[7.12,8.66],[7.16,8.7],[7.24,8.58],[7.32,8.5],[7.51,8.58],[7.55,8.5],[7.47,8.43],[7.28,8.39],[7.08,8.5],[7.2,8.43],[7,8.46],[7.44,8.31],
[6.93,8.35],[7,8.23],[7.08,8.19],[6.96,8.04],[6.85,8.04],[7.04,7.96],[7.12,8.04],[7.16,7.92],[7.08,7.81],[7.04,7.73],[7.12,8.15],[7.18,7.81],
[6.36,8.15],[6.42,8.04],[6.45,7.96],[6.53,7.92],[6.61,7.96],[6.69,7.88],[6.77,7.96],[6.85,7.92],[6.57,7.81],[6.65,7.73],[6.73,7.77],[6.49,7.73],[6.22,7.9],[6.38,7.81],[6,7.71],[6.73,7.57],[6.77,7.5],[6.65,7.46],[6.45,8.08],[6.53,8.04],[6.65,8.04],[6.69,8.08],[6.81,8.04],[6.85,7.81],[6.93,7.88],[6.57,7.96],[6.42,7.92],[6.49,7.85],[6.67,7.67],[6.75,7.65],[6.6,7.61],[6.81,7.69],
[7.96,9.89],[8.12,9.68],[7.99,9.28],[8.02,9.45],[8.18,9.59]
];
// Tick values
const aXTicks=[0,20,40,60,80,100], aYTicks=[-1.5,-1,-0.5,0,0.5];
const bXTicks=[30,31,32,33,34], bYTicks=[30,31,32,33,34];
const cXTicks=[5,10,15,20], cYTicks=[5,10,15];
const dXTicks=[-10,0,10,20,30], dYTicks=[0,10,20,30,40];
const eXTicks=[6,8,10,12], eYTicks=[8,10,12,14];

// ---------------- LAYOUT ----------------
const SERIF='"Liberation Serif","Times New Roman",serif';
const INK='#1e1e1e';
const grids=[
 {left:112,top:20,width:403,height:292},
 {left:671,top:24,width:380,height:292},
 {left:123,top:454,width:392,height:309},
 {left:675,top:453,width:376,height:316},
 {left:133,top:915,width:386,height:294}
];
const extents=[
 {x:[0,100],y:[-1.5,0.5],xt:aXTicks,yt:aYTicks,fs:25,xm:5,ym:5,right:true},
 {x:[28.85,34.78],y:[29.49,34.22],xt:bXTicks,yt:bYTicks,fs:25,xm:5,ym:4,right:false},
 {x:[1.19,20.79],y:[3.27,18.72],xt:cXTicks,yt:cYTicks,fs:26,xm:4,ym:8,right:true},
 {x:[-12.85,36.56],y:[0,40],xt:dXTicks,yt:dYTicks,fs:32,xm:3,ym:3,right:false},
 {x:[4.08,13.16],y:[7.44,14.27],xt:eXTicks,yt:eYTicks,fs:26,xm:6,ym:4,right:true}
];
function axis(i,dim,pos,labels){
  const e=extents[i]; const r=e[dim]; const t=dim==='x'?e.xt:e.yt;
  return {gridIndex:i,type:'value',position:pos,min:r[0],max:r[1],
    axisLine:{show:true,onZero:false,lineStyle:{color:INK,width:2}},
    axisTick:{show:true,inside:true,length:5,customValues:t,lineStyle:{color:INK,width:1}},
    axisLabel:{show:labels,customValues:t,fontFamily:SERIF,fontWeight:'bold',fontSize:e.fs,color:INK,margin:dim==='x'?e.xm:e.ym},
    splitLine:{show:labels,lineStyle:{color:'#9a9a9a',width:1,type:[1,2]}}
  };
}
const xAxes=[],yAxes=[];
for(let i=0;i<5;i++){xAxes.push(axis(i,'x','bottom',true));yAxes.push(axis(i,'y','left',true));}
for(let i=0;i<5;i++){xAxes.push(axis(i,'x','top',false)); if(extents[i].right) yAxes.push(axis(i,'y','right',false));}

const plusPath='path://M4.3,0H5.7V4.3H10V5.7H5.7V10H4.3V5.7H0V4.3H4.3Z';
const crossPath='path://M1,0L5,4L9,0L10,1L6,5L10,9L9,10L5,6L1,10L0,9L4,5L0,1Z';
function dots(i,data,size){return {type:'scatter',xAxisIndex:i,yAxisIndex:i,data:data,symbol:'circle',symbolSize:size,itemStyle:{color:'#262626'},silent:true,animation:false};}

const series=[
 {type:'scatter',xAxisIndex:0,yAxisIndex:0,data:valveNotOperating,symbol:crossPath,symbolSize:8.5,itemStyle:{color:'#3b3b9c'},silent:true,animation:false},
 {type:'scatter',xAxisIndex:0,yAxisIndex:0,data:valveOperating,symbol:plusPath,symbolSize:11,itemStyle:{color:'#f0402c'},silent:true,animation:false},
 dots(1,salinity,3.8),
 dots(2,temperature,4),
 dots(3,turbidity,4.4),
 {type:'line',xAxisIndex:3,yAxisIndex:3,data:turbidityFit,symbol:'none',lineStyle:{color:INK,width:1.5},silent:true,animation:false},
 dots(4,oxygen,4.5)
];

// ---------------- TEXT ----------------
const graphics=[];
function txt(x,y,text,size,rot,rich){
  const st={text:text,x:0,y:0,fill:INK,fontFamily:SERIF,fontWeight:'bold',fontSize:size,align:'center',verticalAlign:'middle'};
  if(rich) st.rich=rich;
  graphics.push({type:'text',x:x,y:y,rotation:rot||0,silent:true,style:st});
}
const R=Math.PI/2;
txt(313,356,'Crossing',26);
txt(23,166,'Maximum salinity',27,R);
txt(48,166,'difference (PSU)',27,R);
txt(301,398,'A',25);
txt(864,361,'Ferry (PSU)',28);
txt(622,156,'Smartbuoy (PSU)',30,R);
txt(845,401,'B',25);
txt(318,813,'Ferry (°C)',29);
txt(69,607,'Smartbuoy (°C)',29,R);
txt(302,863,'C',25);
txt(868,829,'Ferry (FTU)',33);
txt(612,596,'Smartbuoy (FTU)',37,R);
txt(829,876,'D',25);
const supRich={b:{fontFamily:SERIF,fontWeight:'bold',fontSize:29,fill:INK,lineHeight:30},s:{fontFamily:SERIF,fontWeight:'bold',fontSize:16,fill:INK,verticalAlign:'top',lineHeight:30}};
txt(327,1264,'{b|Ferry (mg l}{s|-1}{b|)}',29,0,supRich);
txt(75,1063,'{b|Smartbuoy (mg l}{s|-1}{b|)}',29,R,supRich);
txt(305,1310,'E',25);

// caption (justified word by word)
const captionLines=[
 'FIG. 7. Effect of the water flow control valve',
 'subsequent ferry-to-SmartBuoy measurement comp',
 'sons within a 2-km range: (a) valve-based sensor cont',
 'nation reduction, where blue denotes the peak sal',
 'value without the valve operating and red denotes the p',
 'salinity value with the valve operating; (b) buoy–ferry',
 'linity measurement comparison; (c) temperature; (d)',
 'bidity; and (e) dissolved oxygen concentration.'
];
const capX0=[601,581,581,581,581,581,581,581];
const capX1=[1047,1049,1049,1048,1049,1049,1046,null];
const capY=[1013,1040,1066,1093,1119,1145,1172,1198];
const cv=document.createElement('canvas').getContext('2d');
function mw(t,s){cv.font=s+'px "Liberation Serif"';return cv.measureText(t).width;}
const CS=20;
captionLines.forEach((line,li)=>{
  const words=line.split(' ');
  const widths=words.map((w,wi)=>(li===0&&wi===0)?(mw('F',CS)+mw('IG.',15.5)):mw(w,CS));
  const total=widths.reduce((a,b)=>a+b,0);
  const gap=capX1[li]?(capX1[li]-capX0[li]-total)/(words.length-1):mw(' ',CS);
  let x=capX0[li];
  words.forEach((w,wi)=>{
    const st={x:0,y:0,fill:'#222',fontFamily:SERIF,fontSize:CS,align:'left',verticalAlign:'middle'};
    if(li===0&&wi===0){st.text='{a|F}{b|IG.}';st.rich={a:{fontFamily:SERIF,fontSize:CS,fill:'#222'},b:{fontFamily:SERIF,fontSize:15.5,fill:'#222',verticalAlign:'bottom',lineHeight:20}};}
    else st.text=w;
    graphics.push({type:'text',x:x,y:capY[li],silent:true,style:st});
    x+=widths[wi]+gap;
  });
});

const chart=echarts.init(document.getElementById('c'),null,{renderer:'svg',width:1051,height:1322});
chart.setOption({
  animation:false,
  backgroundColor:'#ffffff',
  grid:grids.map(g=>Object.assign({show:false,containLabel:false},g)),
  xAxis:xAxes, yAxis:yAxes, series:series, graphic:graphics
});
</script></body></html>
